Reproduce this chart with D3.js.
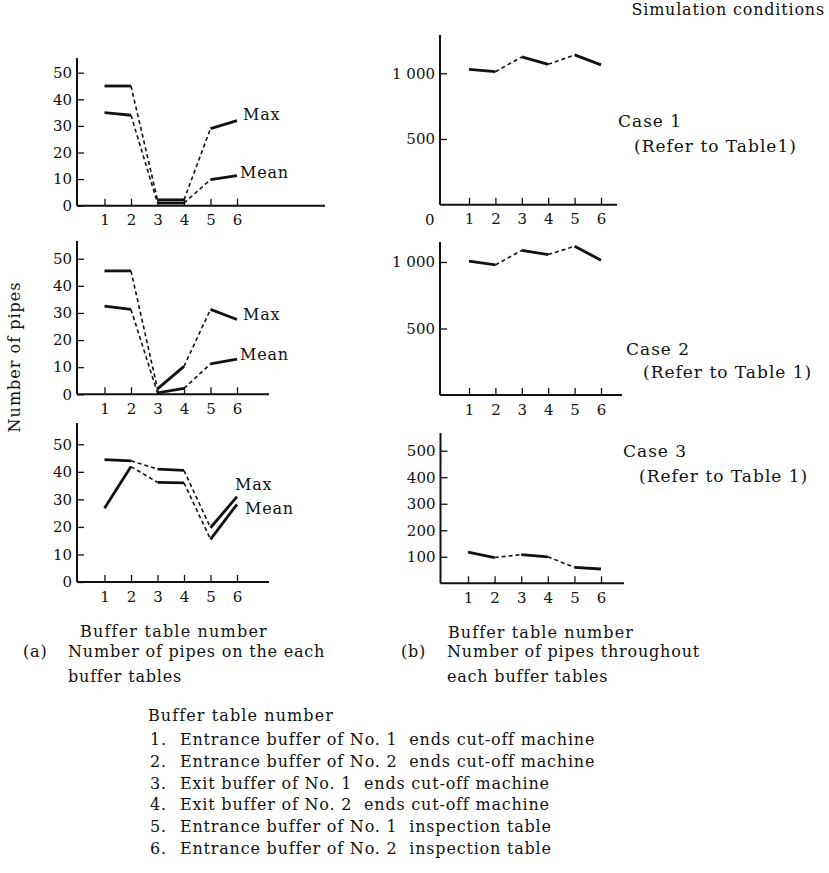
<!DOCTYPE html>
<html>
<head>
<meta charset="utf-8">
<script src="https://cdn.jsdelivr.net/npm/d3@7"></script>
<style>
  body { margin: 0; background: #fff; }
  svg text { font-family: "DejaVu Serif", "Liberation Serif", serif; fill: #111; white-space: pre; }
</style>
</head>
<body>
<div id="chart"></div>
<script>
const buffers = [1, 2, 3, 4, 5, 6];

// (a) number of pipes on each buffer table
const case1Max = [45, 45, 2.2, 2.2, 29, 32];
const case1Mean = [35, 34, 1, 1, 9.8, 11.3];
const case2Max = [45.5, 45.5, 2, 10.3, 31.3, 27.6];
const case2Mean = [32.5, 31.3, 0.5, 2.2, 11.2, 13];
const case3Max = [44.4, 44, 41, 40.5, 19.7, 31];
const case3Mean = [26.8, 41.9, 36.2, 36, 15.5, 28.2];

// (b) number of pipes throughout each buffer table
const case1Total = [1030, 1012, 1125, 1068, 1140, 1064];
const case2Total = [1006, 978, 1088, 1056, 1118, 1014];
const case3Total = [118, 97, 108, 100, 60, 54];

const leftTicks = [0, 10, 20, 30, 40, 50];
const rightTicks12 = [500, 1000];
const rightTicks3 = [100, 200, 300, 400, 500];

const legendItems = [
  "Entrance buffer of No. 1  ends cut-off machine",
  "Entrance buffer of No. 2  ends cut-off machine",
  "Exit buffer of No. 1  ends cut-off machine",
  "Exit buffer of No. 2  ends cut-off machine",
  "Entrance buffer of No. 1  inspection table",
  "Entrance buffer of No. 2  inspection table"
];

const W = 829, H = 873;
const svg = d3.select("#chart").append("svg")
  .attr("width", W).attr("height", H);

// segments: solid within a machine pair, dashed between pairs
const segs = [[0, 1, false], [1, 2, true], [2, 3, false], [3, 4, true], [4, 5, false]];

function panel(opt) {
  const x = d3.scaleLinear().domain([1, 6]).range(opt.xr);
  const y = d3.scaleLinear().domain([0, opt.ymax]).range([opt.y0, opt.ytop]);
  const g = svg.append("g");

  // y ticks + labels
  const ya = g.append("g")
    .attr("transform", `translate(${opt.ax},0)`)
    .call(d3.axisLeft(y).tickValues(opt.ticks).tickSize(-7).tickPadding(5)
      .tickFormat(d => d >= 1000 ? d3.format(",")(d).replace(",", " ") : d));
  ya.select(".domain").remove();
  ya.selectAll("line").attr("stroke", "#111").attr("stroke-width", 1.3);
  ya.selectAll("text").style("font-size", "15px").attr("fill", "#111");

  // x ticks + labels
  const xa = g.append("g")
    .attr("transform", `translate(0,${opt.y0})`)
    .call(d3.axisBottom(x).tickValues(buffers).tickSize(-7).tickPadding(9).tickFormat(d3.format("d")));
  xa.select(".domain").remove();
  xa.selectAll("line").attr("stroke", "#111").attr("stroke-width", 1.3);
  xa.selectAll("text").style("font-size", "15px").attr("fill", "#111");

  // axis lines
  g.append("line").attr("x1", opt.ax).attr("x2", opt.ax)
    .attr("y1", opt.y0).attr("y2", opt.axTop)
    .attr("stroke", "#111").attr("stroke-width", 2);
  g.append("line").attr("x1", opt.ax).attr("x2", opt.axRight)
    .attr("y1", opt.y0).attr("y2", opt.y0)
    .attr("stroke", "#111").attr("stroke-width", 2);

  const line = d3.line().x(d => x(d[0])).y(d => y(d[1]));
  opt.series.forEach(vals => {
    segs.forEach(([a, b, dashed]) => {
      g.append("path")
        .attr("d", line([[buffers[a], vals[a]], [buffers[b], vals[b]]]))
        .attr("fill", "none")
        .attr("stroke", "#111")
        .attr("stroke-width", dashed ? 1.6 : 2.8)
        .attr("stroke-dasharray", dashed ? "4,3" : null);
    });
  });

  (opt.labels || []).forEach(l => {
    g.append("text").attr("x", l[1]).attr("y", l[2]).text(l[0])
      .style("font-size", "16px").style("letter-spacing", "0.8px");
  });
  return g;
}

// left column (a)
panel({ xr: [104.5, 237], ax: 77, axRight: 325, y0: 205.7, ytop: 72.7, ymax: 50, axTop: 58,
  ticks: leftTicks, series: [case1Max, case1Mean],
  labels: [["Max", 243, 120], ["Mean", 240, 178]] });
panel({ xr: [104.5, 237], ax: 77, axRight: 269, y0: 394.3, ytop: 258.7, ymax: 50, axTop: 241,
  ticks: leftTicks, series: [case2Max, case2Mean],
  labels: [["Max", 243, 320], ["Mean", 240, 360]] });
panel({ xr: [104.5, 237], ax: 77, axRight: 269, y0: 582, ytop: 444.3, ymax: 50, axTop: 423,
  ticks: leftTicks, series: [case3Max, case3Mean],
  labels: [["Max", 235, 490], ["Mean", 245, 514]] });

// right column (b)
const p1 = panel({ xr: [469, 601], ax: 440, axRight: 617, y0: 204.7, ytop: 73.3, ymax: 1000, axTop: 35,
  ticks: rightTicks12, series: [case1Total] });
p1.append("text").attr("x", 425).attr("y", 225).text("0").style("font-size", "15px");
panel({ xr: [469, 601], ax: 440, axRight: 622, y0: 395, ytop: 262, ymax: 1000, axTop: 242,
  ticks: rightTicks12, series: [case2Total] });
panel({ xr: [468, 601], ax: 440.5, axRight: 624, y0: 583.3, ytop: 450.7, ymax: 500, axTop: 433,
  ticks: rightTicks3, series: [case3Total] });

// texts
function txt(s, x, y, size, anchor, ls) {
  return svg.append("text").attr("x", x).attr("y", y).text(s)
    .style("font-size", (size || 16) + "px")
    .style("letter-spacing", (ls == null ? 0.8 : ls) + "px")
    .attr("text-anchor", anchor || "start");
}
txt("Simulation conditions", 825, 15, 16, "end");
txt("Case 1", 618, 127, 17, "start", 1);
txt("(Refer to Table1)", 634, 152, 17, "start", 1);
txt("Case 2", 626, 355, 17, "start", 1);
txt("(Refer to Table 1)", 643, 378, 17, "start", 1);
txt("Case 3", 623, 457, 17, "start", 1);
txt("(Refer to Table 1)", 639, 482, 17, "start", 1);

svg.append("text")
  .attr("transform", "translate(20,357) rotate(-90)")
  .attr("text-anchor", "middle")
  .text("Number of pipes")
  .style("font-size", "16px")
  .style("letter-spacing", "1px");

txt("Buffer table number", 80, 637, 16, "start", 1.2);
txt("(a)", 23, 657);
txt("Number of pipes on the each", 68, 657);
txt("buffer tables", 68, 682);
txt("Buffer table number", 448, 638, 16, "start", 1.1);
txt("(b)", 401, 657);
txt("Number of pipes throughout", 447, 657);
txt("each buffer tables", 447, 682);

txt("Buffer table number", 148, 721, 16, "start", 1.1);
legendItems.forEach((s, i) => {
  txt((i + 1) + ".", 150, 745 + i * 21.8);
  txt(s, 180, 745 + i * 21.8);
});
</script>
</body>
</html>
